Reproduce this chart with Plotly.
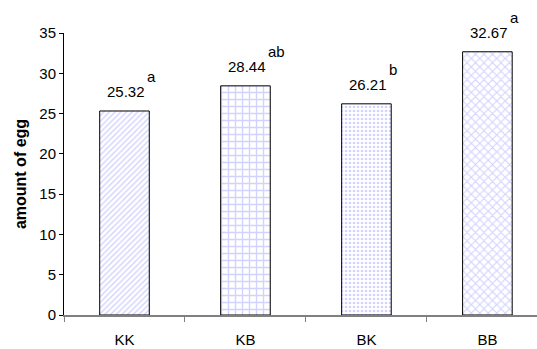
import plotly.graph_objects as go

categories = ["KK", "KB", "BK", "BB"]
values = [25.32, 28.44, 26.21, 32.67]
value_labels = ["25.32", "28.44", "26.21", "32.67"]
letters = ["a", "ab", "b", "a"]
patterns = ["/", "+", ".", "x"]
y_ticks = [0, 5, 10, 15, 20, 25, 30, 35]

FONT = "Liberation Sans, Arial, sans-serif"
fill_col = "#a6a6ff"

fig = go.Figure()
fig.add_trace(go.Bar(
    x=categories, y=values, width=0.41,
    marker=dict(
        color="white",
        line=dict(color="black", width=1),
        pattern=dict(shape=patterns, fgcolor=fill_col, bgcolor="white",
                     size=[4, 7, 4, 6], solidity=0.35, fillmode="overlay"),
    ),
    showlegend=False,
))

annotations = []
for c, v, t, l in zip(categories, values, value_labels, letters):
    annotations.append(dict(x=c, y=v, text=t, showarrow=False, xanchor="center",
                            yanchor="bottom", yshift=9, xshift=2,
                            font=dict(family=FONT, size=15, color="black")))
    annotations.append(dict(x=c, y=v, text=l, showarrow=False, xanchor="left",
                            yanchor="bottom", yshift=24, xshift=21,
                            font=dict(family=FONT, size=15, color="black")))

fig.update_layout(
    width=537, height=349,
    margin=dict(l=64, r=0, t=33, b=34),
    paper_bgcolor="white", plot_bgcolor="white",
    font=dict(family=FONT, size=15, color="black"),
    bargap=0.59,
    annotations=annotations,
    xaxis=dict(
        range=[-0.5, 3.41], showgrid=False, zeroline=False,
        showline=True, linecolor="#808080", linewidth=1.5,
        ticks="outside", ticklen=5, tickcolor="#808080", tickson="boundaries",
        ticklabelstandoff=10,
        tickfont=dict(family=FONT, size=15, color="black"),
    ),
    yaxis=dict(
        range=[0, 35], tickvals=y_ticks, showgrid=False, zeroline=False,
        showline=True, linecolor="black", linewidth=1,
        ticks="outside", ticklen=4, tickcolor="black",
        tickfont=dict(family=FONT, size=15, color="black"),
        title=dict(text="<b>amount of egg</b>", font=dict(family=FONT, size=16), standoff=8),
    ),
)

fig.write_html("out.html")
